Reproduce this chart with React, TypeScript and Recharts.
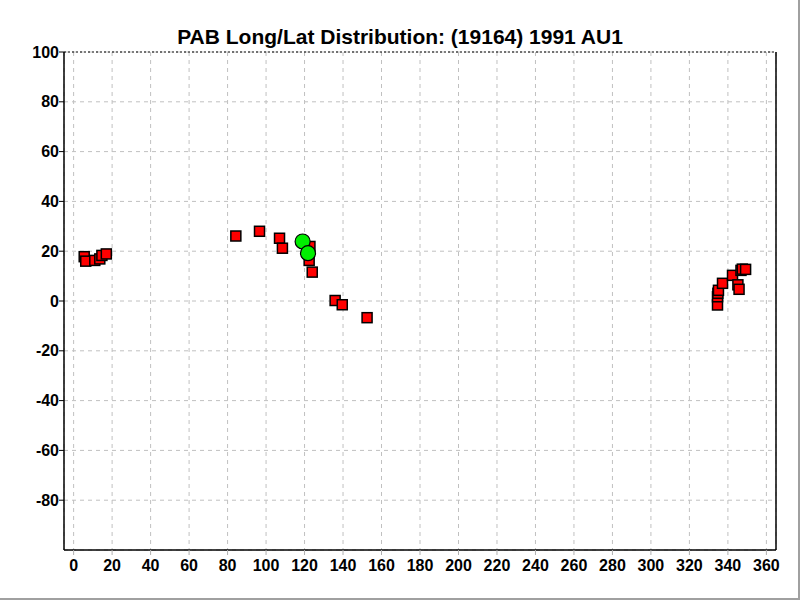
import React from "react";
import {
  ScatterChart,
  Scatter,
  XAxis,
  YAxis,
  CartesianGrid,
  ReferenceLine,
} from "recharts";

const redLong = [5.5, 6.3, 11, 13.6, 14.7, 17, 84.3, 96.6, 107, 108.5, 122.8, 122.4, 124, 135.9, 139.6, 152.5, 334.6, 334.6, 334.8, 335.1, 337.2, 342.4, 345.2, 345.8, 346.8, 347.5, 349.2];
const redLat = [17.8, 16, 16.3, 16.9, 18.3, 18.9, 26.1, 28.0, 25.2, 21.2, 21.9, 16.3, 11.6, 0.2, -1.5, -6.7, -1.6, 1.7, 3.1, 4.3, 7.1, 10.3, 6.5, 4.7, 12.3, 12.8, 12.7];
const greenLong = [119, 121.8];
const greenLat = [23.9, 19.2];

const xTicks = [0, 20, 40, 60, 80, 100, 120, 140, 160, 180, 200, 220, 240, 260, 280, 300, 320, 340, 360];
const yTicks = [-80, -60, -40, -20, 0, 20, 40, 60, 80, 100];

const redData = redLong.map((x, i) => ({ x, y: redLat[i] }));
const greenData = greenLong.map((x, i) => ({ x, y: greenLat[i] }));

const tickFont = {
  fontFamily: "'Liberation Sans', Arial, sans-serif",
  fontWeight: 700,
  fontSize: 16,
  fill: "#000",
};

const Square = (props: any) => {
  const { cx, cy } = props;
  return <rect x={cx - 5} y={cy - 5} width={10} height={10} fill="#ff0000" stroke="#000" strokeWidth={1.5} />;
};

const Dot = (props: any) => {
  const { cx, cy } = props;
  return <circle cx={cx} cy={cy} r={7.5} fill="#00ee00" stroke="#000" strokeWidth={1.2} />;
};

export default function App() {
  return (
    <div
      style={{
        position: "absolute",
        left: 0,
        top: 0,
        width: 800,
        height: 600,
        background: "#fff",
        boxSizing: "border-box",
        borderRight: "2px solid #a0a0a0",
        borderBottom: "2px solid #a0a0a0",
      }}
    >
      <div
        style={{
          position: "absolute",
          top: 24,
          left: 0,
          width: 800,
          textAlign: "center",
          fontFamily: "'Liberation Sans', Arial, sans-serif",
          fontWeight: 700,
          fontSize: 21,
          lineHeight: "26px",
          color: "#000",
        }}
      >
        PAB Long/Lat Distribution: (19164) 1991 AU1
      </div>
      <ScatterChart
        width={800}
        height={600}
        margin={{ top: 52, right: 24, bottom: 0, left: 0 }}
        style={{ position: "absolute", left: 0, top: 0 }}
      >
        <CartesianGrid stroke="#c0c0c0" strokeDasharray="4 4" />
        <XAxis
          type="number"
          dataKey="x"
          domain={[-5, 365]}
          ticks={xTicks}
          interval={0}
          allowDataOverflow
          height={50}
          tick={tickFont}
          tickSize={5}
          tickMargin={5}
          tickLine={{ stroke: "#b0b0b0" }}
          axisLine={{ stroke: "#000", strokeWidth: 1.5 }}
        />
        <YAxis
          type="number"
          dataKey="y"
          domain={[-100, 100]}
          ticks={yTicks}
          interval={0}
          allowDataOverflow
          width={64}
          tick={tickFont}
          tickSize={5}
          tickMargin={0}
          tickLine={{ stroke: "#000" }}
          axisLine={{ stroke: "#000", strokeWidth: 1.5 }}
        />
        <ReferenceLine y={100} stroke="#000" strokeDasharray="2 2" />
        <ReferenceLine x={365} stroke="#000" strokeWidth={1.5} />
        <Scatter data={redData} shape={Square} isAnimationActive={false} />
        <Scatter data={greenData} shape={Dot} isAnimationActive={false} />
      </ScatterChart>
    </div>
  );
}
